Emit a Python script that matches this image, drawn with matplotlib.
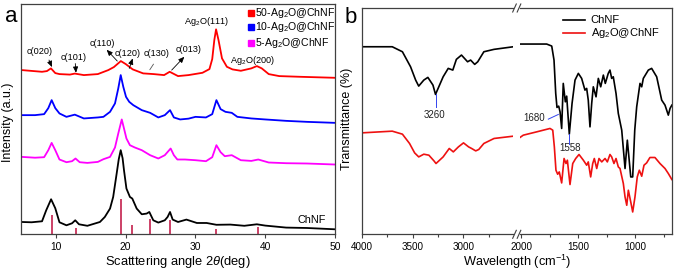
import matplotlib
matplotlib.use('Agg')
import matplotlib.pyplot as plt
from matplotlib.lines import Line2D

plt.rcParams['font.family'] = ['Liberation Sans', 'DejaVu Sans']
plt.rcParams['mathtext.fontset'] = 'custom'
plt.rcParams['mathtext.rm'] = 'Liberation Sans'
plt.rcParams['mathtext.it'] = 'Liberation Sans:italic'
plt.rcParams['mathtext.default'] = 'regular'

# ---------------- XRD data (panel a) ----------------
tt_chnf = [5.1, 6.5, 8.0, 8.6, 9.3, 9.9, 10.5, 11.5, 12.3, 12.76, 13.3, 14.5, 16.3, 17.0, 17.75,
           18.2, 18.7, 19.0, 19.28, 19.55, 19.75, 20.1, 20.6, 20.94, 21.57, 22.3, 23.0, 23.38,
           23.95, 24.67, 25.6, 26.0, 26.35, 26.73, 27.5, 28.7, 30.2, 31.6, 33, 35, 37, 38.8,
           40, 43, 46, 50]
int_chnf = [12.3, 12, 13, 24, 35, 26, 12, 9, 11, 14, 10, 8.5, 12.3, 17.3, 25.7,
            37.3, 60.7, 75, 84, 76, 64, 45.7, 37.3, 35.7, 25.7, 20, 20.7, 22.3,
            14, 11.7, 14, 17.3, 22.3, 14.7, 12.3, 14.7, 11.3, 11.3, 9.5, 9.7, 8.5, 10,
            8.7, 6.7, 6.3, 5]

tt_5 = [5.1, 7.0, 8.3, 8.9, 9.38, 9.9, 10.5, 11.5, 12.3, 12.8, 13.4, 14.5, 16, 16.8, 17.75,
        18.46, 18.93, 19.43, 19.75, 20.1, 20.6, 21.3, 22.3, 23.5, 24.67, 25.6, 26.44, 26.9,
        27.4, 28.5, 30, 31.5, 32.4, 33.0, 33.6, 34.2, 35.2, 36.5, 38, 39, 40.5, 43, 46, 50]
int_5 = [77.3, 76.5, 77, 84, 91.3, 84, 74.7, 72, 73, 75.7, 72, 71.3, 72.3, 75, 77.3,
         86.7, 100.7, 114.7, 105.7, 95.7, 89, 86.7, 84, 79, 75.7, 79, 85.7, 79,
         74.7, 74.7, 74, 73, 77, 89, 82, 78, 79, 74, 73.3, 74.7, 71.7, 71, 70.7, 69.7]

tt_10 = [5.1, 7.0, 8.3, 8.9, 9.38, 9.9, 10.5, 11.5, 12.7, 14, 16, 16.8, 17.75, 18.46, 18.93,
         19.28, 19.65, 20.04, 20.5, 21.08, 22.3, 23.5, 24.67, 25.6, 26.35, 26.9, 27.8, 29,
         30, 31.5, 32.4, 33.0, 33.6, 34.3, 35.2, 36, 38, 40, 43, 46, 50]
int_10 = [119, 119, 120, 126, 134, 126, 120.7, 117.3, 119.5, 115.7, 116.7, 117.3, 122.3, 130.7, 145.7,
          159, 147.3, 137.3, 132.3, 129, 124, 121.3, 116.7, 119, 124, 116.7, 114.7, 115.5,
          117.3, 116.7, 120, 134, 125, 122.3, 121.3, 117.3, 115.7, 114.7, 113.3, 112.3, 111.3]

tt_50 = [5.1, 8, 8.7, 9.28, 9.9, 10.5, 12.0, 12.7, 14, 16, 17.5, 18.3, 18.8, 19.3, 20, 21,
         22.5, 24, 25.5, 26.3, 27.5, 29, 31, 32.0, 32.4, 32.7, 32.95, 33.3, 33.8, 34.5, 35.3,
         36.5, 38, 38.8, 39.5, 40.5, 42, 45, 50]
int_50 = [164, 162.3, 163, 165.7, 161, 160, 159.5, 160.5, 159, 160, 164, 167, 170, 173, 170, 164.7,
          160.7, 160, 159, 162.3, 158, 159, 161.3, 165, 175, 194, 204.7, 194, 175.7, 167.3, 164.7,
          163.3, 165.7, 168, 165.7, 160, 158, 157.3, 156.3]

stick_tt = [9.47, 12.87, 19.3, 20.9, 23.47, 26.3, 33.0, 39.0]
stick_int = [19, 6.3, 35.7, 9, 15.7, 14.7, 5, 7.3]

xrd_labels = ['50-Ag$_2$O@ChNF', '10-Ag$_2$O@ChNF', '5-Ag$_2$O@ChNF']
xrd_colors = ['#ff0000', '#0000ff', '#ff00ff']
xrd_ticks = [10, 20, 30, 40, 50]

# ---------------- FTIR data (panel b) ----------------
wn_chnf_hi = [4000, 3700, 3600, 3520, 3470, 3440, 3390, 3350, 3300, 3275, 3200, 3150, 3105, 3070,
              3020, 2960, 2930, 2890, 2860, 2800, 2700, 2510]
tr_chnf_hi = [187.3, 187.3, 182.3, 167.3, 154, 148, 154, 156.7, 149, 139.7, 157.3, 165.7, 164, 174.7,
              179, 172.3, 174, 169.7, 172.3, 182.3, 184.7, 187.3]
wn_chnf_lo = [2009, 1775, 1731, 1711, 1696, 1685, 1670, 1658, 1644, 1630, 1612, 1600, 1577, 1553,
              1527, 1498, 1469, 1440, 1425, 1411, 1396, 1381, 1367, 1343, 1323, 1302, 1279, 1262,
              1236, 1221, 1206, 1192, 1168, 1148, 1118, 1089, 1069, 1039, 1022, 1004, 987, 958,
              943, 929, 885, 856, 812, 768, 739, 710, 695, 679]
tr_chnf_lo = [190, 190, 188, 174, 140.7, 126.7, 128, 122.3, 105.7, 150.7, 132.3, 138, 100, 130.7,
              154, 160.7, 155.7, 144, 145.7, 134, 107.3, 130.7, 147.3, 137.3, 155.7, 147.3, 159, 150.7,
              160.7, 164, 155.7, 157.3, 140.7, 120.7, 104, 65.7, 94, 57.3, 57.3, 104, 127.3, 150.7,
              147.3, 155.7, 164, 165.7, 157.3, 134, 129, 119, 125.7, 129]

wn_ag_hi = [4000, 3700, 3600, 3530, 3480, 3440, 3390, 3340, 3290, 3270, 3200, 3140, 3100, 3050,
            3000, 2950, 2920, 2880, 2850, 2800, 2700, 2510]
tr_ag_hi = [101.3, 103, 100, 90.7, 81.3, 77.3, 80, 79, 73.3, 70.7, 77.3, 85.7, 82.3, 87.3,
            91.3, 87.3, 85.7, 83.3, 84.7, 90.7, 95.7, 98]
wn_ag_lo = [2009, 1980, 1863, 1746, 1722, 1708, 1694, 1679, 1665, 1644, 1623, 1606, 1594, 1571,
            1547, 1521, 1492, 1454, 1425, 1411, 1390, 1372, 1358, 1337, 1317, 1293, 1264, 1244,
            1221, 1206, 1186, 1168, 1148, 1133, 1104, 1089, 1074, 1060, 1039, 1022, 1002, 982,
            964, 943, 923, 900, 871, 827, 783, 739, 710, 679]
tr_ag_lo = [96.7, 99, 102.3, 105.7, 104, 87.3, 64, 60, 62.3, 51.3, 75.7, 70.7, 74, 49.7,
            70.7, 75.7, 79.7, 74, 69, 72.3, 57.3, 70.7, 75.7, 65.7, 75.7, 72.3, 75.7, 72.3,
            79.7, 77.3, 70.7, 75.7, 67.3, 65.7, 50.7, 37.3, 29, 44, 32.3, 22.3, 37.3, 57.3,
            64, 58, 69, 71.3, 76.7, 76.7, 70.7, 65.7, 60.7, 54.7]

ir_labels = ['ChNF', 'Ag$_2$O@ChNF']
ir_colors = ['#000000', '#ee1111']

W, H = 675, 272
fig = plt.figure(figsize=(W / 100, H / 100), dpi=100)
SP = '#404040'

def frac(x0, y0, x1, y1):
    return [x0 / W, 1 - y1 / H, (x1 - x0) / W, (y1 - y0) / H]

# ---------------- panel a ----------------
ax = fig.add_axes(frac(21.1, 4, 335, 234.3))
ax.plot(tt_chnf, int_chnf, color='black', lw=1.3)
ax.plot(tt_5, int_5, color=xrd_colors[2], lw=1.3)
ax.plot(tt_10, int_10, color=xrd_colors[1], lw=1.3)
ax.plot(tt_50, int_50, color=xrd_colors[0], lw=1.3)
ax.vlines(stick_tt, 0, stick_int, color='#c8325a', lw=1.3)
ax.set_xlim(5, 50)
ax.set_ylim(0, 230)
ax.set_yticks([])
ax.set_xticks(xrd_ticks)
ax.tick_params(axis='x', direction='out', length=3, width=0.8, color=SP, labelsize=7.4, pad=2.5)
for s in ax.spines.values():
    s.set_color(SP)
    s.set_linewidth(0.9)
ax.set_xlabel(r'Scatttering angle 2$\mathit{\theta}$(deg)', fontsize=9.3, labelpad=1.5)

# legend squares
for i, (lab, col) in enumerate(zip(xrd_labels, xrd_colors)):
    yy = [0.9596, 0.9014, 0.832][i]
    ax.plot([0.7324], [yy], marker='s', ms=4.2, color=col, transform=ax.transAxes, clip_on=False)
    ax.text(0.7453, yy, lab, transform=ax.transAxes, fontsize=7.6, va='center', ha='left')

afs = 6.6
arw = dict(arrowstyle='-|>,head_length=0.35,head_width=0.15', color='black', lw=0.6, shrinkA=0, shrinkB=0)
ax.text(7.61, 182.3, 'c(020)', fontsize=afs, ha='center', va='center')
ax.annotate('', xy=(9.43, 167), xytext=(9.0, 174), arrowprops=arw)
ax.text(12.58, 176.7, 'c(101)', fontsize=afs, ha='center', va='center')
ax.annotate('', xy=(12.87, 161.3), xytext=(12.77, 170.5), arrowprops=arw)
ax.text(16.7, 190.7, 'c(110)', fontsize=afs, ha='center', va='center')
ax.annotate('', xy=(17.27, 184.3), xytext=(18.79, 173), arrowprops=arw)
ax.text(20.28, 180.7, 'c(120)', fontsize=afs, ha='center', va='center')
ax.annotate('', xy=(21.0, 175.7), xytext=(20.51, 165.7), arrowprops=arw)
ax.text(24.44, 180.7, 'c(130)', fontsize=afs, ha='center', va='center')
ax.annotate('', xy=(24.2, 172.3), xytext=(23.23, 162),
            arrowprops=dict(arrowstyle='-', color='#555555', lw=0.6))
ax.text(28.97, 185, 'c(013)', fontsize=afs, ha='center', va='center')
ax.annotate('', xy=(28.4, 177.3), xytext=(26.59, 164), arrowprops=arw)
ax.text(31.5, 212.3, 'Ag$_2$O(111)', fontsize=afs, ha='center', va='center')
ax.text(38.2, 174, 'Ag$_2$O(200)', fontsize=afs, ha='center', va='center')
ax.text(46.66, 14.7, 'ChNF', fontsize=7.8, ha='center', va='center')

fig.text(8.3 / W, 1 - 122 / H, 'Intensity (a.u.)', rotation=90, fontsize=9, ha='center', va='center')
fig.text(11 / W, 1 - 16.5 / H, 'a', fontsize=16, ha='center', va='center')

# ---------------- panel b ----------------
axl = fig.add_axes(frac(361.7, 8, 513, 234.3))
axr = fig.add_axes(frac(520, 8, 672, 234.3))
axl.plot(wn_chnf_hi, tr_chnf_hi, color=ir_colors[0], lw=1.2)
axl.plot(wn_ag_hi, tr_ag_hi, color=ir_colors[1], lw=1.2)
axr.plot(wn_chnf_lo, tr_chnf_lo, color=ir_colors[0], lw=1.2)
axr.plot(wn_ag_lo, tr_ag_lo, color=ir_colors[1], lw=1.2)
axl.set_xlim(4000, 2513.7)
axr.set_xlim(2008.8, 677.8)
for a in (axl, axr):
    a.set_ylim(0, 226)
    a.set_yticks([])
    a.tick_params(axis='x', which='major', direction='out', length=3, width=0.8, color=SP,
                  labelsize=7.1, pad=2.5)
    a.tick_params(axis='x', which='minor', direction='out', length=2, width=0.8, color=SP)
    for s in a.spines.values():
        s.set_color(SP)
        s.set_linewidth(0.9)
axl.set_xticks([4000, 3500, 3000])
axl.set_xticks([3750, 3250, 2750], minor=True)
axr.set_xticks([2000, 1500, 1000])
axr.set_xticks([1750, 1250, 750], minor=True)
axl.spines['right'].set_visible(False)
axr.spines['left'].set_visible(False)

fig.text(517.5 / W, 1 - 262.3 / H, 'Wavelength (cm$^{-1}$)', fontsize=9.2, ha='center', va='center')
fig.text(346.7 / W, 1 - 118.5 / H, 'Transmittance (%)', rotation=90, fontsize=9, ha='center', va='center')
fig.text(351 / W, 1 - 17.5 / H, 'b', fontsize=16, ha='center', va='center')

# break marks
for yc in (8, 234.3):
    for xc in (514.5, 519):
        fig.add_artist(Line2D([(xc - 1.8) / W, (xc + 1.8) / W], [1 - (yc + 4) / H, 1 - (yc - 4) / H],
                              color=SP, lw=0.8))

# legend b
for i, (lab, col) in enumerate(zip(ir_labels, ir_colors)):
    yy = [0.947, 0.888][i]
    axr.plot([0.28, 0.43], [yy, yy], color=col, lw=1.2, transform=axr.transAxes, clip_on=False)
    axr.text(0.465, yy, lab, transform=axr.transAxes, fontsize=8, va='center', ha='left')

bfs = 7
blue = '#3344ee'
axl.plot([3275, 3275], [139.7, 127.5], color=blue, lw=0.7)
axl.text(3280, 119, '3260', fontsize=bfs, ha='center', va='center', color='#222222')
axr.plot([1761, 1673], [115, 119.7], color=blue, lw=0.7)
axr.text(1886, 115.7, '1680', fontsize=bfs, ha='center', va='center', color='#222222')
axr.plot([1577, 1577], [100, 90], color=blue, lw=0.7)
axr.text(1571, 85.7, '1558', fontsize=bfs, ha='center', va='center', color='#222222')

fig.savefig('out.png', dpi=100)
